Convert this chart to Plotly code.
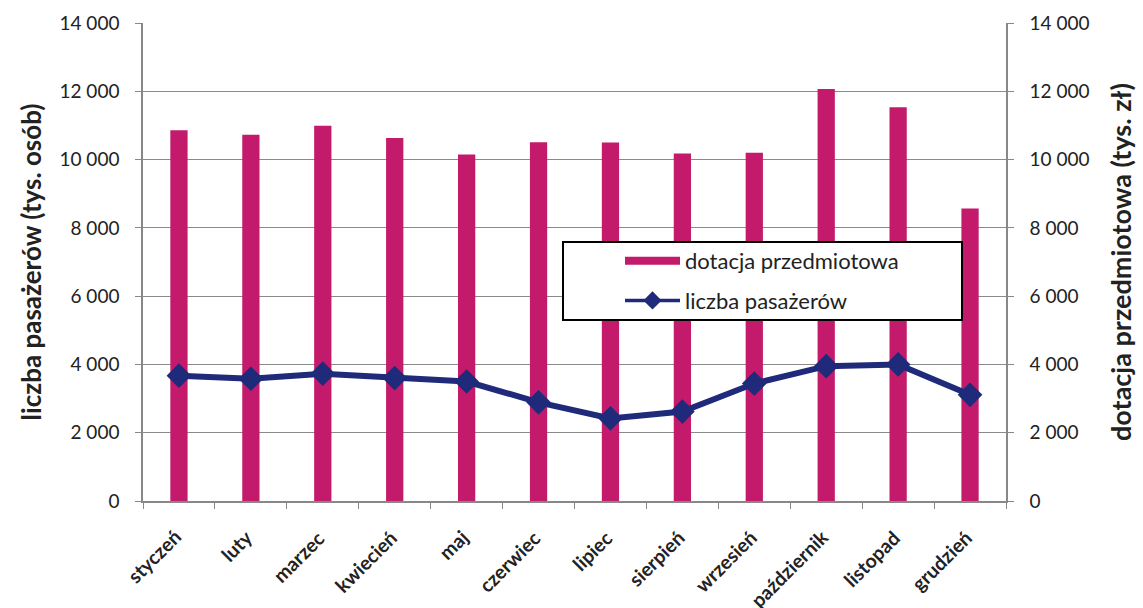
import plotly.graph_objects as go

months = ["styczeń", "luty", "marzec", "kwiecień", "maj", "czerwiec", "lipiec",
          "sierpień", "wrzesień", "październik", "listopad", "grudzień"]
dotacja = [10860, 10730, 10990, 10630, 10150, 10510, 10500, 10180, 10200, 12070, 11530, 8570]
pasazerowie = [3670, 3580, 3730, 3600, 3500, 2890, 2420, 2620, 3440, 3950, 4000, 3110]
y_ticks = [0, 2000, 4000, 6000, 8000, 10000, 12000, 14000]

PINK = "#C41A6B"
NAVY = "#1F2A7A"
FONT = "Lato"
TXT = "#222222"

L, R, T, B = 143, 1006, 23, 501
def px(x):
    return (x - L) / (R - L)
def py(y):
    return (B - y) / (B - T)

fig = go.Figure()
fig.add_trace(go.Bar(x=months, y=dotacja, yaxis="y", marker=dict(color=PINK, line=dict(width=0)),
                     width=0.24, showlegend=False, name="dotacja przedmiotowa"))
fig.add_trace(go.Scatter(x=months, y=pasazerowie, yaxis="y2", mode="lines+markers",
                         line=dict(color=NAVY, width=6),
                         marker=dict(symbol="diamond", size=19, color=NAVY),
                         showlegend=False, name="liczba pasażerów"))
# legend-only entries (no data points)
fig.add_trace(go.Scatter(x=[months[0]], y=[None], mode="lines", line=dict(color=PINK, width=8),
                         name="dotacja przedmiotowa", legendgroup="a"))
fig.add_trace(go.Scatter(x=[months[0]], y=[None], mode="lines+markers", line=dict(color=NAVY, width=3.5),
                         marker=dict(symbol="diamond", size=14, color=NAVY),
                         name="liczba pasażerów", legendgroup="b"))

fig.add_shape(type="rect", xref="paper", yref="paper",
              x0=px(563), x1=px(962), y0=py(320), y1=py(242),
              line=dict(color="black", width=2), fillcolor="white", layer="above")

# category labels (rotated) as annotations anchored at each category
for m in months:
    fig.add_annotation(x=m, xref="x", y=0, yref="paper", text=m, showarrow=False,
                       textangle=-45, xanchor="right", yanchor="top", xshift=9, yshift=-22,
                       font=dict(family=FONT, size=19.5, color=TXT, weight="bold"))

fig.update_layout(
    width=1143, height=608,
    margin=dict(l=L, r=1143 - R, t=T, b=608 - B),
    paper_bgcolor="white", plot_bgcolor="white",
    separators=", ",
    font=dict(family=FONT, color=TXT, size=19),
    xaxis=dict(type="category", categoryorder="array", categoryarray=months,
               range=[-0.5, len(months) - 0.5],
               showline=True, linecolor="#888", linewidth=1.5, ticks="outside", tickson="boundaries",
               ticklen=6, tickcolor="#888", showticklabels=False, automargin=False, showgrid=False),
    yaxis=dict(range=[0, 14000], tickvals=y_ticks, tickformat=",d", showline=True, linecolor="#888",
               linewidth=1.5, ticks="outside", ticklen=6, tickcolor="#888", ticklabelstandoff=12,
               showgrid=True, gridcolor="#8a8a8a", gridwidth=1, zeroline=False, automargin=False,
               tickfont=dict(size=19, color=TXT),
               title=dict(text="liczba pasażerów (tys. osób)", standoff=10,
                          font=dict(size=26, color=TXT, weight="bold"))),
    yaxis2=dict(range=[0, 14000], tickvals=y_ticks, tickformat=",d", overlaying="y", side="right",
                showline=True, linecolor="#888", linewidth=1.5, ticks="outside", ticklen=6, tickcolor="#888",
                ticklabelstandoff=12, automargin=False,
                showgrid=False, zeroline=False, tickfont=dict(size=19, color=TXT),
                title=dict(text="dotacja przedmiotowa (tys. zł)", standoff=24,
                           font=dict(size=27, color=TXT, weight="bold"))),
    legend=dict(x=px(620), y=py(240), xanchor="left", yanchor="top",
                bgcolor="rgba(0,0,0,0)", borderwidth=0, font=dict(size=22, color=TXT),
                itemwidth=55, tracegroupgap=8, traceorder="grouped"),
    showlegend=True,
)

fig.write_html("out.html")
